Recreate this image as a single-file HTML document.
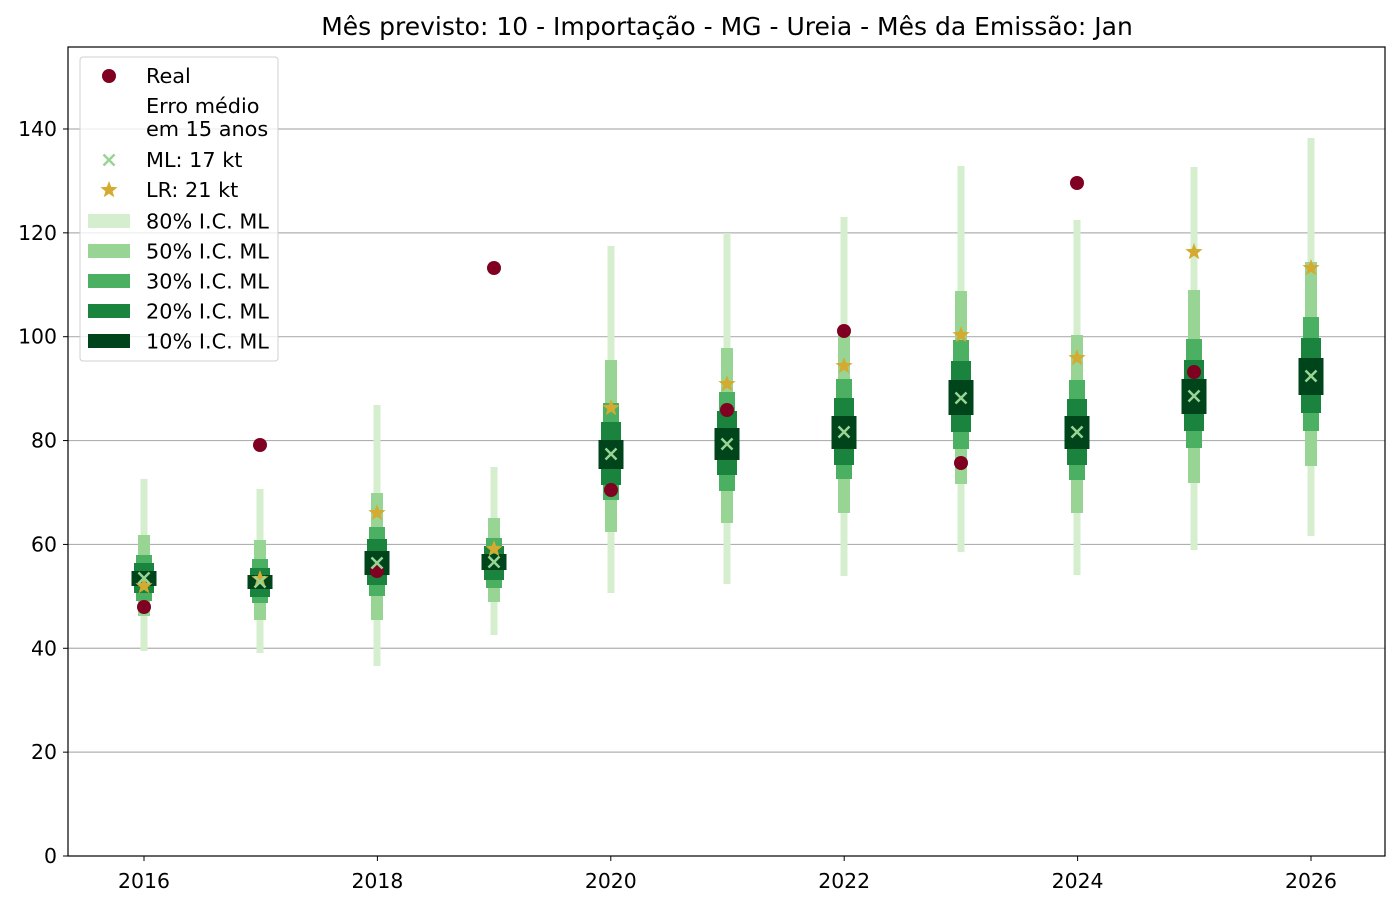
<!DOCTYPE html>
<html><head><meta charset="utf-8"><style>
html,body{margin:0;padding:0;background:#fff}
svg text{font-family:"DejaVu Sans","Liberation Sans",sans-serif}
</style></head><body>
<svg id="s" width="1400" height="906" xmlns="http://www.w3.org/2000/svg">
<rect width="1400" height="906" fill="#fff"/>
<g id="grid" stroke="#b0b0b0" stroke-width="1.2"></g>
<g id="bars"></g>
<rect x="68" y="47" width="1317" height="809" fill="none" stroke="#000" stroke-width="1.2"/>
<g id="ticks" font-size="20.4" fill="#000"></g>
<text x="727" y="35" font-size="25" text-anchor="middle">Mês previsto: 10 - Importação - MG - Ureia - Mês da Emissão: Jan</text>
<g id="legend"></g>
</svg>
<script>
var NS="http://www.w3.org/2000/svg";
function el(p,t,a,txt){var e=document.createElementNS(NS,t);for(var k in a)e.setAttribute(k,a[k]);if(txt!=null)e.textContent=txt;document.getElementById(p).appendChild(e);return e;}
for(var v=0;v<=140;v+=20){var y=856-v*5.193;
 if(v>0)el("grid","line",{x1:68,x2:1385,y1:y,y2:y});
 el("ticks","line",{x1:63,x2:68,y1:y,y2:y,stroke:"#000"});
 el("ticks","text",{x:57,y:y+7,"text-anchor":"end"},String(v));}
for(var i=0;i<6;i++){var x=144+i*233.4;
 el("ticks","line",{x1:x,x2:x,y1:856,y2:861,stroke:"#000"});
 el("ticks","text",{x:x,y:888,"text-anchor":"middle"},String(2016+2*i));}
var cols=["#d4eece","#98d594","#4bb062","#1a843f","#00441b"],ws=[7,12,16,20,25];
var D=[
[144,[479,651],[535,616],[555,601],[563,593],[571,586],578,586,607],
[260,[489,653],[540,620],[559,603],[568,597],[575,589],582,579,445],
[377,[405,666],[493,620],[527,596],[539,585],[551,575],563,513,571],
[494,[467,635],[518,602],[538,588],[546,580],[554,570],562,549,268],
[611,[246,593],[360,532],[403,500],[422,485],[440,469],454,408,490],
[727,[233,584],[348,523],[392,491],[411,475],[428,460],444,384,410],
[844,[217,576],[333,513],[379,479],[398,465],[416,449],432,366,331],
[961,[166,552],[291,484],[340,449],[361,432],[380,415],398,335,463],
[1077,[220,575],[335,513],[380,480],[399,465],[416,449],432,358,183],
[1194,[167,550],[290,483],[339,448],[360,431],[379,414],396,252,372],
[1311,[138,536],[262,466],[317,431],[338,413],[358,395],376,268,null]];
function star(x,y,r,g){var p=[];for(var k=0;k<10;k++){var a=-Math.PI/2+k*Math.PI/5,rr=k%2?r*0.42:r;p.push((x+rr*Math.cos(a)).toFixed(1)+","+(y+rr*Math.sin(a)).toFixed(1));}el(g,"polygon",{points:p.join(" "),fill:"#d4aa30"});}
function cross(x,y,g){var s=5.5;el(g,"path",{d:"M"+(x-s)+" "+(y-s)+"L"+(x+s)+" "+(y+s)+"M"+(x-s)+" "+(y+s)+"L"+(x+s)+" "+(y-s),stroke:"#98d594","stroke-width":2.5,fill:"none"});}
D.forEach(function(d){var x=d[0];
 for(var j=0;j<5;j++){var r=d[1+j];el("bars","rect",{x:x-ws[j]/2,y:r[0],width:ws[j],height:r[1]-r[0],fill:cols[j]});}
 if(d[8]!=null)el("bars","circle",{cx:x,cy:d[8],r:7,fill:"#7f0020"});
 star(x,d[7],9,"bars");cross(x,d[6],"bars");});
el("legend","rect",{x:80,y:57,width:198,height:304,rx:3,fill:"#fff","fill-opacity":0.8,stroke:"#d0d0d0"});
el("legend","circle",{cx:109,cy:76,r:7,fill:"#7f0020"});
cross(109,160,"legend");star(109,190,9,"legend");
var L=[["Real",83],["Erro médio",113],["em 15 anos",136],["ML: 17 kt",167],["LR: 21 kt",197]];
L.forEach(function(l){el("legend","text",{x:146,y:l[1],"font-size":"20.8"},l[0]);});
for(var j=0;j<5;j++){var y=221+30*j;el("legend","rect",{x:88,y:y-7,width:42,height:14,fill:cols[j]});
 el("legend","text",{x:146,y:y+7.5,"font-size":"20.8"},["80","50","30","20","10"][j]+"% I.C. ML");}
</script>
</body></html>
